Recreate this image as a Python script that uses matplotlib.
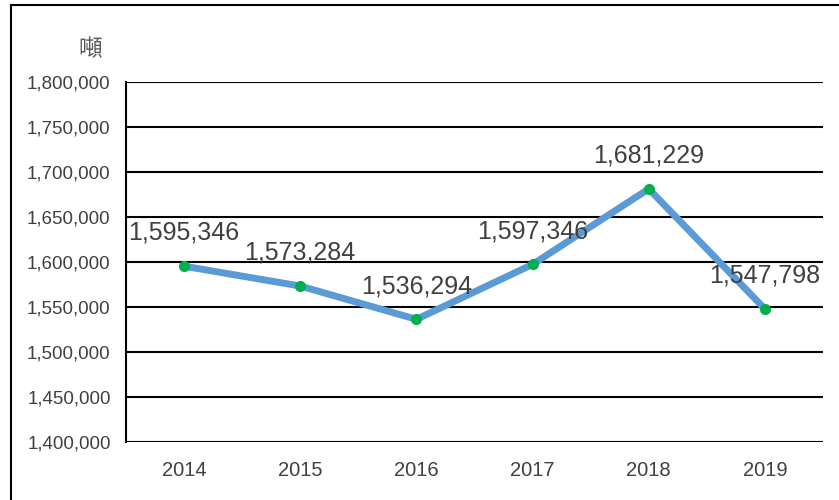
import matplotlib
matplotlib.use('Agg')
import matplotlib.pyplot as plt
from matplotlib.lines import Line2D

# data
years = ['2014', '2015', '2016', '2017', '2018', '2019']
tons = [1595346, 1573284, 1536294, 1597346, 1681229, 1547798]
y_ticks = [1400000, 1450000, 1500000, 1550000, 1600000, 1650000, 1700000, 1750000, 1800000]
unit = '噸'

plt.rcParams['font.family'] = ['Liberation Sans', 'Noto Sans CJK TC', 'DejaVu Sans']

fig = plt.figure(figsize=(8.39, 5), dpi=100)
ax = fig.add_axes([126 / 839, 58 / 500, 697 / 839, 360 / 500])

x = list(range(len(years)))
ax.plot(x, tons, color='#5B9BD5', linewidth=5, solid_capstyle='round',
        marker='o', markersize=7, markerfacecolor='#00B050', markeredgecolor='#00B050',
        zorder=3)

for xi, v in zip(x, tons):
    ax.annotate(f'{v:,}', (xi, v), xytext=(0, 24), textcoords='offset points',
                ha='center', va='center', fontsize=18, color='#404040', zorder=4)

ax.set_xlim(-0.5, len(years) - 0.5)
ax.set_ylim(y_ticks[0], y_ticks[-1])
ax.set_yticks(y_ticks)
ax.set_yticklabels([f'{t:,}' for t in y_ticks], fontsize=13.5, color='#404040')
ax.set_xticks(x)
ax.set_xticklabels(years, fontsize=14.5, color='#404040')
ax.tick_params(axis='x', length=0, pad=14)
ax.tick_params(axis='y', length=0, pad=11)

ax.grid(axis='y', color='black', linewidth=1.5)
ax.set_axisbelow(True)
for s in ['top', 'right', 'bottom']:
    ax.spines[s].set_visible(False)
ax.spines['left'].set_color('black')
ax.spines['left'].set_linewidth(1.5)

fig.text(90 / 839, 1 - 50 / 500, unit, fontsize=17, color='#595959',
         ha='center', va='center', family=['Noto Sans CJK TC', 'DejaVu Sans'])

# outer frame (top and left edges visible)
fig.add_artist(Line2D([11 / 839, 1], [495 / 500, 495 / 500], color='black', linewidth=1.5))
fig.add_artist(Line2D([11 / 839, 11 / 839], [0, 495 / 500], color='black', linewidth=1.5))

fig.savefig('out.png', dpi=100)
